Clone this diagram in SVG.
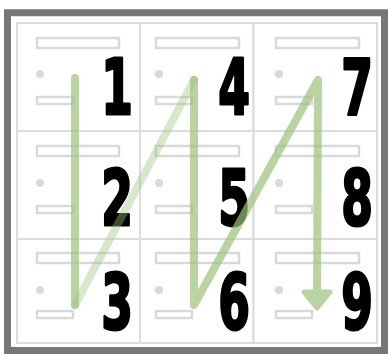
<svg xmlns="http://www.w3.org/2000/svg" width="388" height="354" viewBox="0 0 388 354">
<style>
.cell{fill:#fff;stroke:#dcdcdc;stroke-width:2}
.bar{fill:#fff;stroke:#d9d9d9;stroke-width:2.5}
.dot{fill:#d9d9d9}
.num{font-family:"DejaVu Sans",sans-serif;font-weight:bold;font-size:76px;fill:#000;stroke:#000;stroke-width:3;stroke-linejoin:round;text-anchor:middle}
.path{fill:none;stroke:#9cc27c;stroke-width:8;stroke-linecap:round;stroke-linejoin:round}
.head{fill:#9cc27c;stroke:#9cc27c;stroke-width:5;stroke-linejoin:round}
</style>
<rect x="0" y="0" width="388" height="354" fill="#fff"/>
<rect x="7.5" y="12.75" width="377" height="337.75" fill="#fff" stroke="#777" stroke-width="7"/>
<g id="cell1"><rect class="cell" x="17" y="23" width="123" height="108"/><rect class="bar" x="37" y="38" width="82" height="10"/><circle class="dot" cx="40" cy="74" r="4"/><rect class="bar" x="37" y="97" width="36" height="7"/><text class="num" transform="translate(117,114) scale(0.6,1)">1</text></g>
<g id="cell4"><rect class="cell" x="140" y="23" width="113.5" height="108"/><rect class="bar" x="156" y="38" width="83" height="10"/><circle class="dot" cx="159" cy="74" r="4"/><rect class="bar" x="156" y="97" width="36" height="7"/><text class="num" transform="translate(234,114) scale(0.6,1)">4</text></g>
<g id="cell7"><rect class="cell" x="253.5" y="23" width="123.5" height="108"/><rect class="bar" x="276" y="38" width="83" height="10"/><circle class="dot" cx="279" cy="74" r="4"/><rect class="bar" x="276" y="97" width="36" height="7"/><text class="num" transform="translate(357,114) scale(0.6,1)">7</text></g>
<g id="cell2"><rect class="cell" x="17" y="131" width="123" height="108"/><rect class="bar" x="37" y="146" width="82" height="10"/><circle class="dot" cx="40" cy="183" r="4"/><rect class="bar" x="37" y="206" width="36" height="7"/><text class="num" transform="translate(117,225) scale(0.6,1)">2</text></g>
<g id="cell5"><rect class="cell" x="140" y="131" width="113.5" height="108"/><rect class="bar" x="156" y="146" width="83" height="10"/><circle class="dot" cx="159" cy="183" r="4"/><rect class="bar" x="156" y="206" width="36" height="7"/><text class="num" transform="translate(234,225) scale(0.6,1)">5</text></g>
<g id="cell8"><rect class="cell" x="253.5" y="131" width="123.5" height="108"/><rect class="bar" x="276" y="146" width="83" height="10"/><circle class="dot" cx="279" cy="183" r="4"/><rect class="bar" x="276" y="206" width="36" height="7"/><text class="num" transform="translate(357,225) scale(0.6,1)">8</text></g>
<g id="cell3"><rect class="cell" x="17" y="239" width="123" height="104"/><rect class="bar" x="37" y="253" width="82" height="10"/><circle class="dot" cx="40" cy="290" r="4"/><rect class="bar" x="37" y="311" width="36" height="7"/><text class="num" transform="translate(117,329) scale(0.6,1)">3</text></g>
<g id="cell6"><rect class="cell" x="140" y="239" width="113.5" height="104"/><rect class="bar" x="156" y="253" width="83" height="10"/><circle class="dot" cx="159" cy="290" r="4"/><rect class="bar" x="156" y="311" width="36" height="7"/><text class="num" transform="translate(234,329) scale(0.6,1)">6</text></g>
<g id="cell9"><rect class="cell" x="253.5" y="239" width="123.5" height="104"/><rect class="bar" x="276" y="253" width="83" height="10"/><circle class="dot" cx="279" cy="290" r="4"/><rect class="bar" x="276" y="311" width="36" height="7"/><text class="num" transform="translate(357,329) scale(0.6,1)">9</text></g>
<g id="connectors">
<path class="path" opacity="0.4" d="M75,305 L194,80"/>
<g opacity="0.7">
<path class="path" d="M75,78 L75,305"/>
</g>
<g opacity="0.7">
<path class="path" d="M194,80 L194,305 L318,80 L317,292"/>
<path class="head" d="M304,292 L330,292 L317,308 Z"/>
</g>
</g>
</svg>
